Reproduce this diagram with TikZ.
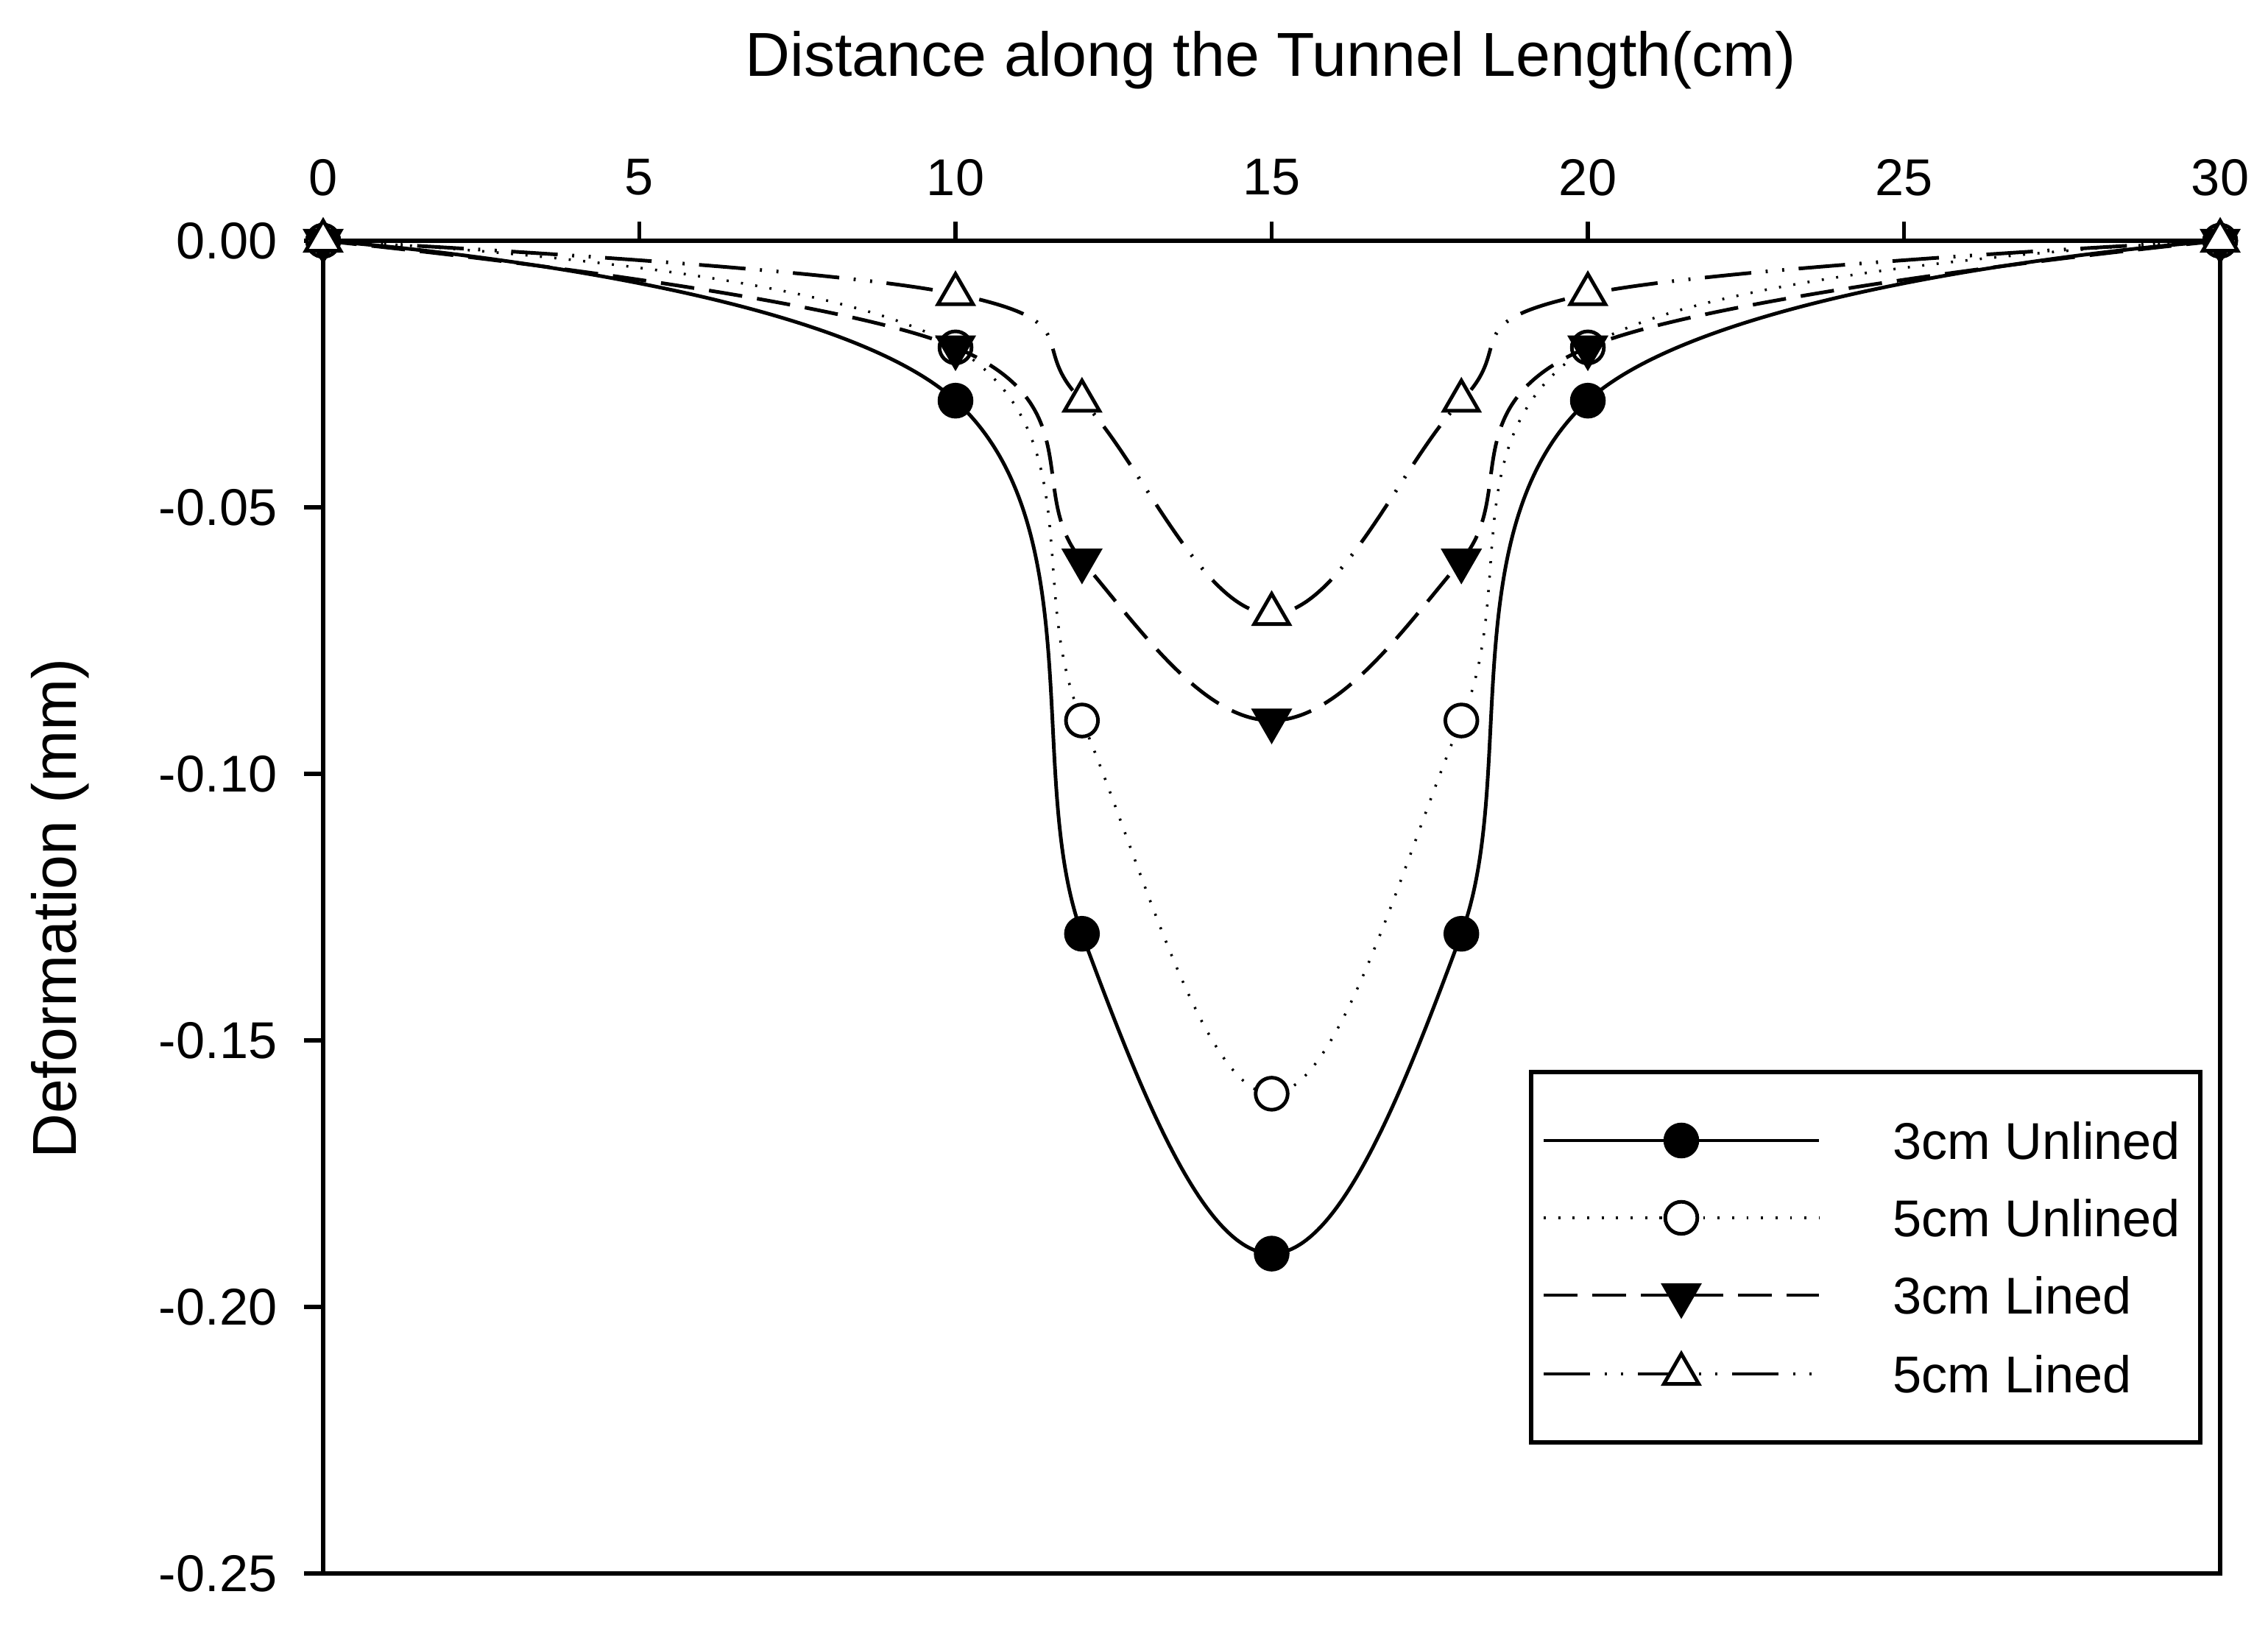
\documentclass[tikz,border=0pt]{standalone}
\usepackage{fontspec}
\setmainfont{Liberation Sans}
\usetikzlibrary{plotmarks}

\begin{document}
\begin{tikzpicture}[
  axisline/.style={line width=0.8pt},
  ticklabel/.style={font=\fontsize{10}{12}\selectfont, inner xsep=0pt},
  axistitle/.style={font=\fontsize{12}{14}\selectfont},
  curve/.style={line width=0.7pt, smooth, tension=0.65},
  unlinedthree/.style={curve, mark=*, mark size=3.1pt, mark options={solid, fill=black}},
  unlinedfive/.style={curve, line width=0.5pt, dash pattern=on 0.4pt off 2.4pt,
    mark=*, mark size=3.1pt, mark options={solid, fill=white, line width=0.7pt}},
  linedthree/.style={curve, dash pattern=on 6.5pt off 2.9pt,
    mark=triangle*, mark size=3.9pt, mark options={solid, fill=black, rotate=180}},
  linedfive/.style={curve, dash pattern=on 9pt off 2.8pt on 0.4pt off 2.8pt on 0.4pt off 2.8pt,
    mark=triangle*, mark size=3.9pt, mark options={solid, fill=white}}
]
\useasboundingbox (0,0) rectangle (15.405,-11.035);
%%titles
\path (8.63,-0.41) node[axistitle] {Distance along the Tunnel Length(cm)}
  (0.41,-6.17) node[axistitle, rotate=90] {Deformation (mm)};
%%the plot area, in data units
\begin{scope}[shift={(2.195,-1.635)}, x=0.4295cm, y=36.2cm]
\draw[axisline] (0,0) rectangle (30,-0.25);
\foreach \d in {0,5,...,30}
  \draw[axisline] (\d,0) -- ++(0,0.13cm) node[ticklabel, above=0.3cm, anchor=center] {\d};
\foreach \v in {0.00,-0.05,-0.10,-0.15,-0.20,-0.25}
  \draw[axisline] (0,\v) -- ++(-0.13cm,0) node[ticklabel, anchor=east, xshift=-0.17cm] {\v};
%%now for the four curves
\draw[unlinedthree] plot coordinates {(0,0) (10,-0.03) (12,-0.13) (15,-0.19) (18,-0.13) (20,-0.03) (30,0)};
\draw[unlinedfive] plot coordinates {(0,0) (10,-0.02) (12,-0.09) (15,-0.16) (18,-0.09) (20,-0.02) (30,0)};
\draw[linedthree] plot coordinates {(0,0) (10,-0.02) (12,-0.06) (15,-0.09) (18,-0.06) (20,-0.02) (30,0)};
\draw[linedfive] plot coordinates {(0,0) (10,-0.01) (12,-0.03) (15,-0.07) (18,-0.03) (20,-0.01) (30,0)};
\end{scope}
%%finally the legend
\draw[axisline] (10.4,-7.28) rectangle (14.945,-9.795);
\draw[unlinedthree, mark indices={2}] plot coordinates {(10.485,-7.745) (11.42,-7.745) (12.355,-7.745)};
\draw[unlinedfive, mark indices={2}] plot coordinates {(10.485,-8.27) (11.42,-8.27) (12.355,-8.27)};
\draw[linedthree, mark indices={2}] plot coordinates {(10.485,-8.795) (11.42,-8.795) (12.355,-8.795)};
\draw[linedfive, mark indices={2}] plot coordinates {(10.485,-9.33) (11.42,-9.33) (12.355,-9.33)};
\path (12.85,-7.745) node[ticklabel, anchor=west] {3cm Unlined}
  (12.85,-8.27) node[ticklabel, anchor=west] {5cm Unlined}
  (12.85,-8.795) node[ticklabel, anchor=west] {3cm Lined}
  (12.85,-9.33) node[ticklabel, anchor=west] {5cm Lined};
\end{tikzpicture}
\end{document}
